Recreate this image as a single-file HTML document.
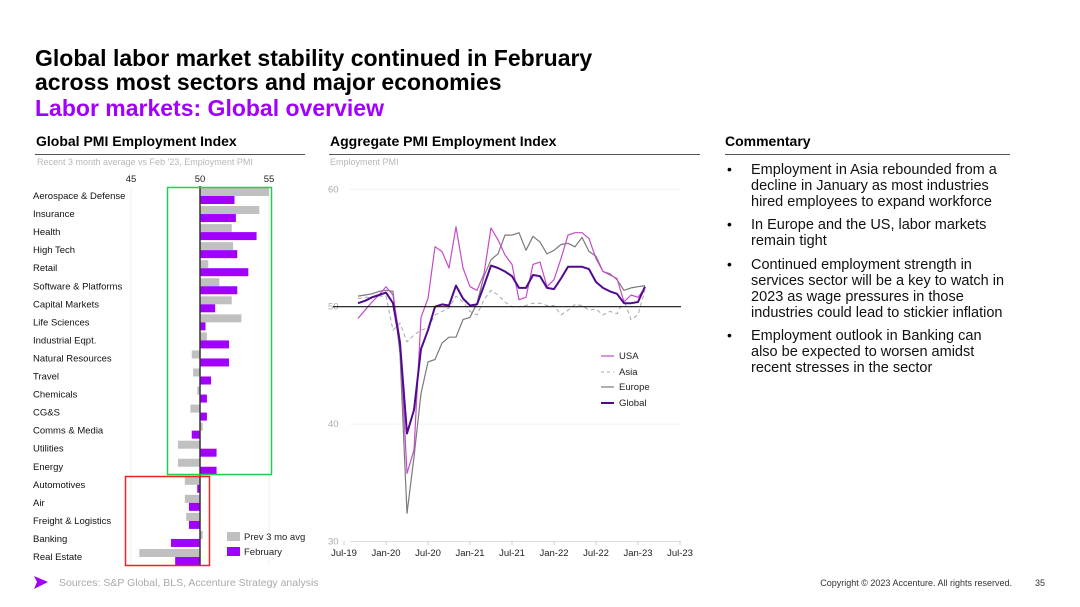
<!DOCTYPE html>
<html><head><meta charset="utf-8"><style>
body{margin:0;width:1080px;height:607px;background:#fff;font-family:"Liberation Sans",sans-serif;position:relative;overflow:hidden;color:#000}
.abs{position:absolute;white-space:nowrap}
.h1{left:35px;font-size:23px;font-weight:bold;line-height:24px}
.sec{font-size:14px;font-weight:bold;top:133px}
.rule{position:absolute;height:1px;background:#555;top:154px}
.sub{font-size:9px;color:#b8b8b8;top:157px}
.com{position:absolute;left:751px;font-size:14.5px;line-height:16px;color:#111;white-space:nowrap}
.bul{position:absolute;left:727px;font-size:14px}
</style></head><body>
<div class="abs h1" style="top:46px">Global labor market stability continued in February</div>
<div class="abs h1" style="top:70px">across most sectors and major economies</div>
<div class="abs h1" style="top:96px;color:#a100ff">Labor markets: Global overview</div>

<div class="abs sec" style="left:36px">Global PMI Employment Index</div>
<div class="rule" style="left:35px;width:270px"></div>
<div class="abs sub" style="left:37px">Recent 3 month average vs Feb '23, Employment PMI</div>
<div class="abs sec" style="left:330px">Aggregate PMI Employment Index</div>
<div class="rule" style="left:329px;width:371px"></div>
<div class="abs sub" style="left:330px">Employment PMI</div>
<div class="abs sec" style="left:725px">Commentary</div>
<div class="rule" style="left:725px;width:285px"></div>

<div>
<div class="bul" style="top:161px">•</div><div class="com" style="top:162px">Employment in Asia rebounded from a<br>decline in January as most industries<br>hired employees to expand workforce</div>
<div class="bul" style="top:216px">•</div><div class="com" style="top:217px">In Europe and the US, labor markets<br>remain tight</div>
<div class="bul" style="top:256px">•</div><div class="com" style="top:257px">Continued employment strength in<br>services sector will be a key to watch in<br>2023 as wage pressures in those<br>industries could lead to stickier inflation</div>
<div class="bul" style="top:327px">•</div><div class="com" style="top:328px">Employment outlook in Banking can<br>also be expected to worsen amidst<br>recent stresses in the sector</div>
</div>

<svg class="abs" style="left:0;top:0" width="1080" height="607" id="svg">
<polygon points="34,576 48,582 34,589 37,582" fill="#a100ff"/>
<text x="59" y="586" font-size="10.5" fill="#aaa">Sources: S&amp;P Global, BLS, Accenture Strategy analysis</text>
<text x="1012" y="586" font-size="9" fill="#333" text-anchor="end">Copyright © 2023 Accenture. All rights reserved.</text>
<text x="1035" y="586" font-size="9" fill="#333">35</text>
<g id="bars"></g><g id="lines"></g>
</svg>
<script>
const NS="http://www.w3.org/2000/svg";
function mk(p,t,a){const e=document.createElementNS(NS,t);for(const k in a)e.setAttribute(k,a[k]);p.appendChild(e);return e;}
// ---- bar chart data
const sectors=["Aerospace & Defense","Insurance","Health","High Tech","Retail","Software & Platforms","Capital Markets","Life Sciences","Industrial Eqpt.","Natural Resources","Travel","Chemicals","CG&S","Comms & Media","Utilities","Energy","Automotives","Air","Freight & Logistics","Banking","Real Estate"];
const prev3mo=[55.0,54.3,52.3,52.4,50.6,51.4,52.3,53.0,50.5,49.4,49.5,49.8,49.3,50.2,48.4,48.4,48.9,48.9,49.0,50.2,45.6];
const february=[52.5,52.6,54.1,52.7,53.5,52.7,51.1,50.4,52.1,52.1,50.8,50.5,50.5,49.4,51.2,51.2,49.8,49.2,49.2,47.9,48.2];
const barTicks=[45,50,55];
const bx=v=>200+(v-50)*13.8, by=i=>196+i*18.05;
const B=document.getElementById('bars');
barTicks.forEach(t=>{const e=mk(B,'text',{x:bx(t),y:182,'font-size':9.5,'text-anchor':'middle',fill:'#222'});e.textContent=t;


if(t!==50){mk(B,'line',{x1:bx(t),x2:bx(t),y1:186,y2:566,stroke:'#f2f2f2'});}});
sectors.forEach((s,i)=>{const y=by(i);
const l=mk(B,'text',{x:33,y:y+3,'font-size':9.5,fill:'#111'});l.textContent=s;


const p=prev3mo[i],f=february[i];
const r1=mk(B,'rect',{x:Math.min(bx(p),200),y:y-8,width:Math.abs(bx(p)-200),height:8,fill:'#c0c0c0'});


const r2=mk(B,'rect',{x:Math.min(bx(f),200),y:y,width:Math.abs(bx(f)-200),height:8,fill:'#a100ff'});


});
mk(B,'line',{x1:200,x2:200,y1:186,y2:566,stroke:'#333','stroke-width':1.5});
const gb=mk(B,'rect',{x:167.5,y:187.5,width:104,height:287,fill:'none',stroke:'#22cc55','stroke-width':1.5});


const rb=mk(B,'rect',{x:125.5,y:476.5,width:84,height:89,fill:'none',stroke:'#ee2222','stroke-width':1.5});


[['Prev 3 mo avg','#c0c0c0',538],['February','#a100ff',553]].forEach(([t,c,y])=>{
const r=mk(B,'rect',{x:227,y:y-6,width:13,height:9,fill:c});
const e=mk(B,'text',{x:244,y:y+2,'font-size':9.5,fill:'#222'});e.textContent=t;});
// ---- line chart data (monthly Sep-19 .. Feb-23)
const startMonth=2; // months after Jul-19
const usa=[49.0,49.7,50.4,51.0,51.7,51.0,47.2,35.8,37.8,49.1,50.7,55.1,54.7,53.3,56.8,53.3,51.7,51.4,52.8,56.7,55.7,54.4,53.6,50.6,50.8,53.6,53.8,51.7,52.3,54.1,56.1,56.3,56.3,55.8,54.1,53.0,52.7,52.4,50.4,51.0,50.8,51.6];
const asia=[50.7,50.8,50.8,50.9,50.9,48.0,48.6,47.0,47.6,48.0,48.2,49.3,49.6,49.9,50.9,50.4,49.6,49.3,50.6,51.4,51.0,50.4,50.0,50.0,50.1,50.3,50.3,50.1,50.1,49.3,49.7,50.2,50.1,49.7,49.8,49.3,49.6,49.4,50.6,48.9,49.3,51.4];
const europe=[50.9,51.0,51.1,51.3,51.4,51.3,46.0,32.4,37.2,42.6,45.3,45.5,46.9,47.4,47.4,48.9,49.1,50.3,52.6,54.0,54.5,56.1,56.1,56.3,54.8,56.0,55.5,54.5,54.8,55.3,55.4,55.1,55.9,54.7,54.3,53.0,52.8,52.3,51.4,51.6,51.7,51.8];
const global=[50.3,50.5,50.8,51.0,51.2,50.3,46.9,39.2,41.2,46.4,48.0,50.0,50.2,50.1,51.8,50.7,50.1,50.2,51.8,53.5,53.3,53.0,52.6,51.6,51.6,52.7,52.6,51.6,51.5,52.4,53.4,53.4,53.4,53.2,52.1,51.6,51.3,51.1,50.3,50.3,50.4,51.7];
const xTicks=["Jul-19","Jan-20","Jul-20","Jan-21","Jul-21","Jan-22","Jul-22","Jan-23","Jul-23"];
const yTicks=[30,40,50,60];
const lx=m=>344+m*7.0, ly=v=>306.7-(v-50)*11.74;
const L=document.getElementById('lines');
yTicks.forEach(t=>{if(t!==50)mk(L,'line',{x1:350,x2:681,y1:ly(t),y2:ly(t),stroke:t===30?'#ddd':'#f2f2f2'});
const e=mk(L,'text',{x:328,y:ly(t)+3,'font-size':9.5,fill:'#aaa'});e.textContent=t;

});
xTicks.forEach((t,i)=>{const x=lx(i*6);mk(L,'line',{x1:x,x2:x,y1:541,y2:545,stroke:'#ccc'});
const e=mk(L,'text',{x:x,y:556,'font-size':9.5,'text-anchor':'middle',fill:'#222'});e.textContent=t;

});
const series=[['asia',asia,'#a8a8a8',1,'4,3'],['europe',europe,'#7a7a7a',1.2,''],['usa',usa,'#c44bc9',1.2,''],['global',global,'#500a90',2,'']];
function pts(a){return a.map((v,i)=>lx(startMonth+i).toFixed(1)+','+ly(v).toFixed(1)).join(' ');}
series.forEach(([n,a,c,w,d])=>{const p=mk(L,'polyline',{points:pts(a),fill:'none',stroke:c,'stroke-width':w,'stroke-linejoin':'round'});
if(d)p.setAttribute('stroke-dasharray',d);

});
mk(L,'line',{x1:333,x2:681,y1:ly(50),y2:ly(50),stroke:'#111','stroke-width':1.2});
[['USA','#c44bc9',1.2,'',356],['Asia','#a8a8a8',1,'3,3',372],['Europe','#7a7a7a',1.2,'',387],['Global','#500a90',2,'',403]].forEach(([t,c,w,d,y])=>{
const s=mk(L,'line',{x1:601,x2:614,y1:y,y2:y,stroke:c,'stroke-width':w});if(d)s.setAttribute('stroke-dasharray',d);
const e=mk(L,'text',{x:619,y:y+3,'font-size':9.5,fill:'#222'});e.textContent=t;

});
</script>
</body></html>
